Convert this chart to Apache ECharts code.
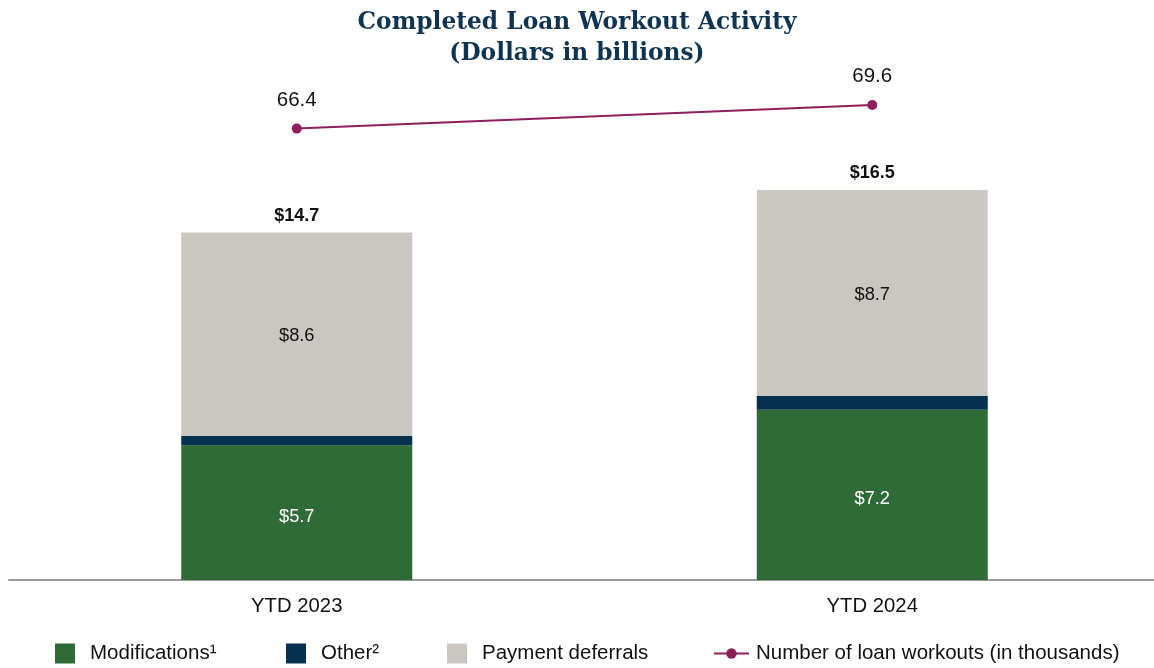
<!DOCTYPE html>
<html>
<head>
<meta charset="utf-8">
<script src="https://cdn.jsdelivr.net/npm/echarts@6/dist/echarts.min.js"></script>
<style>
html,body{margin:0;padding:0;background:#fff;}
#c{width:1154px;height:668px;}
</style>
</head>
<body>
<div id="c"></div>
<script>
var categories = ['YTD 2023', 'YTD 2024'];
var modifications = [5.7, 7.2];
var other = [0.4, 0.6];
var paymentDeferrals = [8.6, 8.7];
var workouts = [66.4, 69.6];
var seriesNames = ['Modifications\u00b9', 'Other\u00b2', 'Payment deferrals', 'Number of loan workouts (in thousands)'];

var totals = categories.map(function (c, i) {
  return +(modifications[i] + other[i] + paymentDeferrals[i]).toFixed(1);
});

var FONT = '"Liberation Sans", Arial, sans-serif';
var chart = echarts.init(document.getElementById('c'));

function legendItem(name, left, opts) {
  return Object.assign({
    data: [{ name: name, icon: 'rect' }],
    left: left,
    top: 643,
    padding: 0,
    itemWidth: 20,
    itemHeight: 20,
    selectedMode: false,
    textStyle: { fontFamily: FONT, fontSize: 20.5, color: '#111', padding: [0, 0, 0, 10] }
  }, opts || {});
}

chart.setOption({
  animation: false,
  backgroundColor: '#fff',
  title: {
    text: 'Completed Loan Workout Activity\n(Dollars in billions)',
    left: 'center',
    top: 2,
    textStyle: {
      fontFamily: '"DejaVu Serif", Georgia, serif',
      fontWeight: 'bold',
      fontSize: 23.3,
      lineHeight: 31,
      color: '#0E3452'
    }
  },
  legend: [
    legendItem(seriesNames[0], 55),
    legendItem(seriesNames[1], 286),
    legendItem(seriesNames[2], 447),
    legendItem(seriesNames[3], 713, {
      data: [seriesNames[3]],
      top: 643,
      itemWidth: 35, itemHeight: 13,
      textStyle: { fontFamily: FONT, fontSize: 20.5, color: '#111', padding: [0, 0, 0, 2] }
    })
  ],
  grid: { left: 9, width: 1151, top: 60, bottom: 88, containLabel: false, outerBoundsMode: 'none' },
  xAxis: {
    type: 'category',
    data: categories,
    axisLine: { lineStyle: { color: '#9a9a9a', width: 2 } },
    axisTick: { show: false },
    axisLabel: { fontFamily: FONT, fontSize: 20.3, color: '#111', margin: 16 }
  },
  yAxis: [
    { type: 'value', min: 0, max: 22, show: false, splitLine: { show: false } },
    { type: 'value', min: 5.4, max: 75.67, show: false, splitLine: { show: false } }
  ],
  series: [
    {
      name: seriesNames[0], type: 'bar', stack: 'a', barWidth: 231,
      data: modifications,
      itemStyle: { color: '#2E6B37' },
      label: { show: true, position: 'inside', offset: [0, 4], fontFamily: FONT, fontSize: 18.3, color: '#fff',
        formatter: function (p) { return '$' + p.value.toFixed(1); } }
    },
    {
      name: seriesNames[1], type: 'bar', stack: 'a', barWidth: 231,
      data: other,
      itemStyle: { color: '#06304F' }
    },
    {
      name: seriesNames[2], type: 'bar', stack: 'a', barWidth: 231,
      data: paymentDeferrals,
      itemStyle: { color: '#CAC7C2' },
      label: { show: true, position: 'inside', offset: [0, 2], fontFamily: FONT, fontSize: 18.3, color: '#111',
        formatter: function (p) { return '$' + p.value.toFixed(1); } }
    },
    {
      name: 'Total', type: 'bar', barWidth: 231, barGap: '-100%',
      data: totals,
      itemStyle: { color: 'rgba(0,0,0,0)' },
      label: { show: true, position: 'top', distance: 8, fontFamily: FONT, fontSize: 18, fontWeight: 'bold', color: '#111',
        formatter: function (p) { return '$' + p.value.toFixed(1); } },
      silent: true, z: 1
    },
    {
      name: seriesNames[3], type: 'line', yAxisIndex: 1,
      data: workouts,
      clip: false,
      symbol: 'circle', symbolSize: 10,
      lineStyle: { color: '#8E1F5B', width: 2 },
      itemStyle: { color: '#8E1F5B' },
      label: { show: true, position: 'top', distance: 13, fontFamily: FONT, fontSize: 20.5, color: '#111',
        formatter: function (p) { return p.value.toFixed(1); } },
      z: 5
    }
  ]
});
</script>
</body>
</html>
